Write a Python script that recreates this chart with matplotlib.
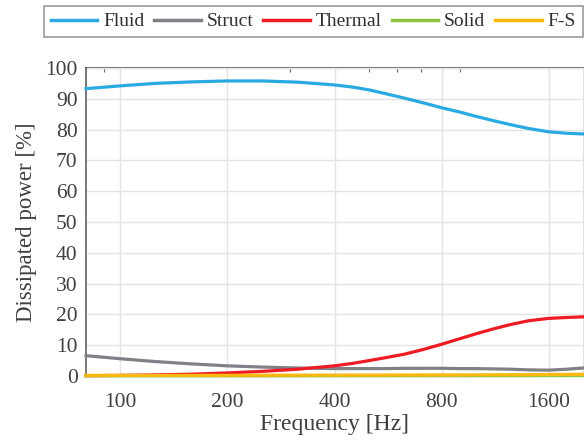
import numpy as np
import matplotlib
matplotlib.use("Agg")
from matplotlib import pyplot as plt
from matplotlib.ticker import FixedLocator, NullLocator, FixedFormatter

freq = [80, 100, 125, 160, 200, 250, 315, 400, 450, 500, 560, 630, 710, 800, 900,
        1000, 1120, 1250, 1400, 1600, 1800, 2000]
fluid = [93.3, 94.2, 95.0, 95.5, 95.8, 95.8, 95.4, 94.5, 93.8, 92.9, 91.6, 90.2, 88.7,
         87.1, 85.7, 84.3, 82.9, 81.6, 80.4, 79.3, 78.8, 78.6]
struct = [6.6, 5.6, 4.7, 3.9, 3.3, 2.9, 2.6, 2.4, 2.4, 2.4, 2.4, 2.5, 2.5, 2.5, 2.4,
          2.4, 2.3, 2.2, 2.0, 1.9, 2.2, 2.6]
thermal = [0.1, 0.2, 0.35, 0.6, 1.0, 1.5, 2.2, 3.3, 4.1, 5.0, 6.0, 7.1, 8.6, 10.3, 12.1,
           13.7, 15.3, 16.7, 17.9, 18.7, 19.0, 19.2]
solid = [0.05, 0.05, 0.05, 0.05, 0.05, 0.06, 0.07, 0.08, 0.08, 0.09, 0.09, 0.1, 0.1,
         0.1, 0.1, 0.1, 0.11, 0.12, 0.13, 0.14, 0.15, 0.15]
fs = [0.2, 0.2, 0.2, 0.2, 0.22, 0.24, 0.26, 0.28, 0.29, 0.3, 0.31, 0.32, 0.33, 0.35,
      0.36, 0.38, 0.4, 0.42, 0.45, 0.48, 0.52, 0.55]

names = ["Fluid", "Struct", "Thermal", "Solid", "F-S"]
colors = ["#29abe2", "#808087", "#ed1c24", "#8dc63f", "#fbb80f"]

xticks = [100, 200, 400, 800, 1600]
top_ticks = [90, 100, 200, 300, 400, 500, 600, 700, 800, 900, 1600]
yticks = list(range(0, 101, 10))

plt.rcParams['font.family'] = ['Liberation Serif', 'DejaVu Serif']
txt = "#404040"

fig = plt.figure(figsize=(5.84, 4.41), dpi=100)
ax = fig.add_axes([86/584, 1 - 376/441, 497/584, 308/441])

for vals, name, c in zip([fluid, struct, thermal, solid, fs], names, colors):
    ax.plot(freq, vals, color=c, lw=2.3, label=name, clip_on=False, zorder=3,
            solid_joinstyle='round')

ax.set_xscale('log')
ax.set_xlim(80, 2000)
ax.set_ylim(0, 100)
ax.xaxis.set_major_locator(FixedLocator(xticks))
ax.xaxis.set_major_formatter(FixedFormatter([str(t) for t in xticks]))
ax.xaxis.set_minor_locator(NullLocator())
ax.set_yticks(yticks)
ax.tick_params(axis='both', length=0, labelsize=15.5, colors=txt)
ax.tick_params(axis='x', pad=12)
ax.tick_params(axis='y', pad=6)
ax.grid(True, color="#e4e4e4", lw=1)
ax.set_axisbelow(True)

sec = ax.secondary_xaxis('top')
sec.xaxis.set_major_locator(FixedLocator(top_ticks))
sec.xaxis.set_minor_locator(NullLocator())
sec.tick_params(axis='x', direction='in', length=3, color="#707070", labeltop=False)
sec.spines['top'].set_color("#808080")
sec.spines['top'].set_linewidth(1.5)

ax.spines['left'].set_color("#606060")
ax.spines['left'].set_linewidth(1.2)
ax.spines['bottom'].set_color("#808080")
ax.spines['top'].set_visible(False)
ax.spines['right'].set_color("#e0e0e0")

ax.set_xlabel("Frequency [Hz]", fontsize=17, color=txt, labelpad=2)
ax.set_ylabel("Dissipated power [%]", fontsize=16.5, color=txt, labelpad=6)

leg = fig.legend(loc='upper left', bbox_to_anchor=(44/584, 1 - 6/441), ncol=5,
                 frameon=True, fancybox=False, fontsize=14, handlelength=2.4,
                 handletextpad=0.3, columnspacing=0.5, borderpad=0.35,
                 borderaxespad=0)
leg.get_frame().set_edgecolor("#808080")
leg.get_frame().set_linewidth(1.2)
for t in leg.get_texts():
    t.set_color("#303030")
for h in leg.get_lines():
    h.set_linewidth(2.5)

fig.savefig("out.png", dpi=100)
